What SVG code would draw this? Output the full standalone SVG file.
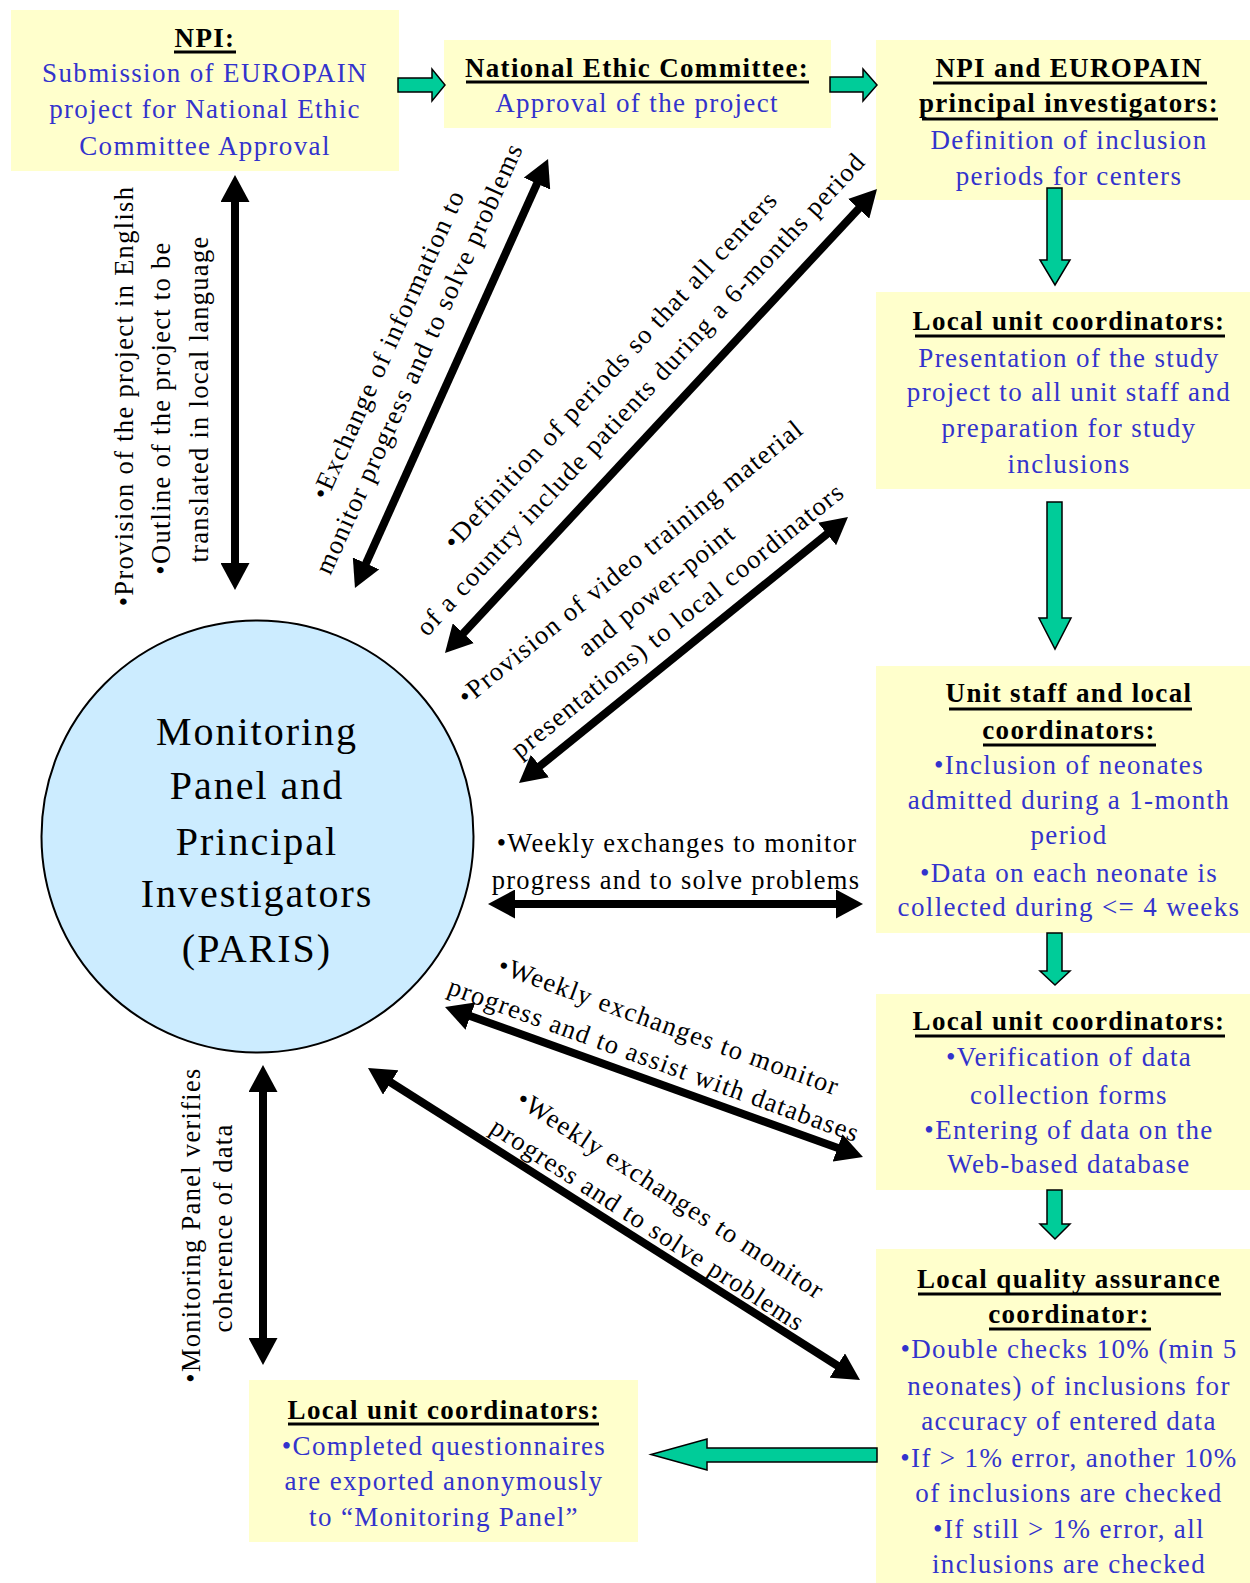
<svg xmlns="http://www.w3.org/2000/svg" width="1250" height="1583" viewBox="0 0 1250 1583">
<style>
.box{fill:#FFFFCC}
.t{font-family:"Liberation Serif","Times New Roman",serif;font-size:27px;letter-spacing:1.35px;text-anchor:middle}
.h{font-weight:bold;fill:#000}
.b{fill:#3333CC}
.u{stroke:#000;stroke-width:3}
.l{font-family:"Liberation Serif","Times New Roman",serif;font-size:26.5px;letter-spacing:1.3px;fill:#000;text-anchor:middle}
.c{font-family:"Liberation Serif","Times New Roman",serif;font-size:40px;letter-spacing:2px;fill:#000;text-anchor:middle}
.g{fill:#00CC99;stroke:#000;stroke-width:1.5;stroke-linejoin:miter}
.a{stroke:#000;stroke-width:8;fill:none;marker-start:url(#ah);marker-end:url(#ah)}
</style>
<defs>
<marker id="ah" viewBox="0 0 27 29" refX="13" refY="14.5" markerWidth="27" markerHeight="29" markerUnits="userSpaceOnUse" orient="auto-start-reverse">
<path d="M0,0 L27,14.5 L0,29 z" fill="#000"/>
</marker>
</defs>
<rect width="1250" height="1583" fill="#FFFFFF"/>

<g id="npi">
<rect class="box" x="11" y="10" width="388" height="161"/>
<text class="t h" x="205" y="47">NPI:</text>
<line class="u" x1="174" y1="52" x2="236" y2="52"/>
<text class="t b" x="205" y="82">Submission of EUROPAIN</text>
<text class="t b" x="205" y="118">project for National Ethic</text>
<text class="t b" x="205" y="155">Committee Approval</text>
</g>

<g id="nec">
<rect class="box" x="444" y="40" width="387" height="88"/>
<text class="t h" x="637" y="77">National Ethic Committee:</text>
<line class="u" x1="466" y1="82" x2="809" y2="82"/>
<text class="t b" x="637" y="112">Approval of the project</text>
</g>

<g id="npi-europain">
<rect class="box" x="876" y="40" width="374" height="160"/>
<text class="t h" x="1069" y="77">NPI and EUROPAIN</text>
<line class="u" x1="933" y1="83" x2="1207" y2="83"/>
<text class="t h" x="1069" y="112">principal investigators:</text>
<line class="u" x1="922" y1="119" x2="1218" y2="119"/>
<text class="t b" x="1069" y="149">Definition of inclusion</text>
<text class="t b" x="1069" y="185">periods for centers</text>
</g>

<g id="local-unit-1">
<rect class="box" x="876" y="292" width="374" height="197"/>
<text class="t h" x="1069" y="330">Local unit coordinators:</text>
<line class="u" x1="915" y1="336" x2="1225" y2="336"/>
<text class="t b" x="1069" y="367">Presentation of the study</text>
<text class="t b" x="1069" y="401">project to all unit staff and</text>
<text class="t b" x="1069" y="437">preparation for study</text>
<text class="t b" x="1069" y="473">inclusions</text>
</g>

<g id="unit-staff">
<rect class="box" x="876" y="666" width="374" height="267"/>
<text class="t h" x="1069" y="702">Unit staff and local</text>
<line class="u" x1="949" y1="709" x2="1192" y2="709"/>
<text class="t h" x="1069" y="739">coordinators:</text>
<line class="u" x1="983" y1="745" x2="1156" y2="745"/>
<text class="t b" x="1069" y="774">•Inclusion of neonates</text>
<text class="t b" x="1069" y="809">admitted during a 1-month</text>
<text class="t b" x="1069" y="844">period</text>
<text class="t b" x="1069" y="882">•Data on each neonate is</text>
<text class="t b" x="1069" y="916">collected during &lt;= 4 weeks</text>
</g>

<g id="local-unit-2">
<rect class="box" x="876" y="994" width="374" height="196"/>
<text class="t h" x="1069" y="1030">Local unit coordinators:</text>
<line class="u" x1="915" y1="1036" x2="1225" y2="1036"/>
<text class="t b" x="1069" y="1066">•Verification of data</text>
<text class="t b" x="1069" y="1104">collection forms</text>
<text class="t b" x="1069" y="1139">•Entering of data on the</text>
<text class="t b" x="1069" y="1173">Web-based database</text>
</g>

<g id="lqa">
<rect class="box" x="876" y="1249" width="374" height="334"/>
<text class="t h" x="1069" y="1288">Local quality assurance</text>
<line class="u" x1="918" y1="1294" x2="1221" y2="1294"/>
<text class="t h" x="1069" y="1323">coordinator:</text>
<line class="u" x1="989" y1="1329" x2="1151" y2="1329"/>
<text class="t b" x="1069" y="1358">•Double checks 10% (min 5</text>
<text class="t b" x="1069" y="1395">neonates) of inclusions for</text>
<text class="t b" x="1069" y="1430">accuracy of entered data</text>
<text class="t b" x="1069" y="1467">•If &gt; 1% error, another 10%</text>
<text class="t b" x="1069" y="1502">of inclusions are checked</text>
<text class="t b" x="1069" y="1538">•If still &gt; 1% error, all</text>
<text class="t b" x="1069" y="1573">inclusions are checked</text>
</g>

<g id="local-unit-3">
<rect class="box" x="249" y="1380" width="389" height="162"/>
<text class="t h" x="444" y="1419">Local unit coordinators:</text>
<line class="u" x1="288" y1="1424" x2="599" y2="1424"/>
<text class="t b" x="444" y="1455">•Completed questionnaires</text>
<text class="t b" x="444" y="1490">are exported anonymously</text>
<text class="t b" x="444" y="1526">to “Monitoring Panel”</text>
</g>

<g id="monitoring-panel">
<circle cx="257.5" cy="836.5" r="216" fill="#CCECFF" stroke="#000" stroke-width="2"/>
<text class="c" x="257" y="745">Monitoring</text>
<text class="c" x="257" y="799">Panel and</text>
<text class="c" x="257" y="855">Principal</text>
<text class="c" x="257" y="907">Investigators</text>
<text class="c" x="257" y="962">(PARIS)</text>
</g>

<g id="connectors">
<polygon class="g" points="398,78 432,78 432,69 445,85 432,101 432,92 398,92"/>
<polygon class="g" points="830,77 863,77 863,69 877,85 863,101 863,92 830,92"/>
<polygon class="g" points="1047,188 1062,188 1062,260 1070,260 1055,285 1040,260 1047,260"/>
<polygon class="g" points="1047,502 1062,502 1062,618 1071,618 1055,649 1039,618 1047,618"/>
<polygon class="g" points="1047,933 1062,933 1062,971 1070,971 1055,985 1040,971 1047,971"/>
<polygon class="g" points="1047,1190 1062,1190 1062,1224 1070,1224 1055,1239 1040,1224 1047,1224"/>
<polygon class="g" points="877,1448 707,1448 707,1439 651,1454.5 707,1470 707,1462 877,1462"/>

<line class="a" x1="235" y1="189" x2="235" y2="576"/>
<line class="a" x1="542.3" y1="171.8" x2="360.7" y2="575.2"/>
<line class="a" x1="867.5" y1="199.3" x2="454.5" y2="642.7"/>
<line class="a" x1="837.1" y1="525.8" x2="529.9" y2="774.2"/>
<line class="a" x1="502" y1="904" x2="849" y2="904"/>
<line class="a" x1="458.2" y1="1011.7" x2="849.8" y2="1152.3"/>
<line class="a" x1="379.8" y1="1075.5" x2="848.2" y2="1372.5"/>
<line class="a" x1="263" y1="1079" x2="263" y2="1351"/>

<g id="labels">
<text class="l" transform="translate(133,396) rotate(-90)">•Provision of the project in English</text>
<text class="l" transform="translate(170,408) rotate(-90)">•Outline of the project to be</text>
<text class="l" transform="translate(208,399) rotate(-90)">translated in local language</text>

<text class="l" transform="translate(396,348) rotate(-65.7)">•Exchange of information to</text>
<text class="l" transform="translate(427,362) rotate(-65.7)">monitor progress and to solve problems</text>

<text class="l" transform="translate(617,376) rotate(-47.2)">•Definition of periods so that all centers</text>
<text class="l" transform="translate(647,400) rotate(-47.2)">of a country include patients during a 6-months period</text>

<text class="l" transform="translate(636,569) rotate(-39)">•Provision of video training material</text>
<text class="l" transform="translate(662,597) rotate(-39)">and power-point</text>
<text class="l" transform="translate(683,627) rotate(-39)">presentations) to local coordinators</text>

<text class="l" x="677" y="852">•Weekly exchanges to monitor</text>
<text class="l" x="676" y="889">progress and to solve problems</text>

<text class="l" transform="translate(666,1034) rotate(20)">•Weekly exchanges to monitor</text>
<text class="l" transform="translate(651,1068) rotate(20)">progress and to assist with databases</text>

<text class="l" transform="translate(666,1202) rotate(33)">•Weekly exchanges to monitor</text>
<text class="l" transform="translate(643,1232) rotate(33)">progress and to solve problems</text>

<text class="l" transform="translate(200,1225) rotate(-90)">•Monitoring Panel verifies</text>
<text class="l" transform="translate(232,1228) rotate(-90)">coherence of data</text>
</g>
</g>
</svg>
